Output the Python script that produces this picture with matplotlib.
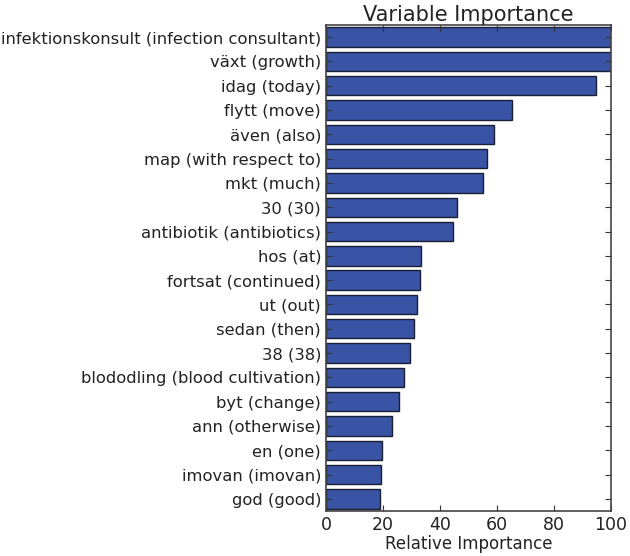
import numpy as np
import matplotlib
matplotlib.use("Agg")
import matplotlib.pyplot as plt

# feature names (top to bottom) and their relative importance
names = [
    "infektionskonsult (infection consultant)",
    "växt (growth)",
    "idag (today)",
    "flytt (move)",
    "även (also)",
    "map (with respect to)",
    "mkt (much)",
    "30 (30)",
    "antibiotik (antibiotics)",
    "hos (at)",
    "fortsat (continued)",
    "ut (out)",
    "sedan (then)",
    "38 (38)",
    "blododling (blood cultivation)",
    "byt (change)",
    "ann (otherwise)",
    "en (one)",
    "imovan (imovan)",
    "god (good)",
]
importance = [100.0, 100.0, 94.7, 65.2, 59.0, 56.3, 55.1, 46.0, 44.5, 33.4,
              33.0, 31.8, 31.0, 29.3, 27.4, 25.6, 23.3, 19.7, 19.3, 18.9]

# plot smallest at bottom
names_r = names[::-1]
vals_r = importance[::-1]
pos = np.arange(len(names_r)) + 0.5

fig = plt.figure(figsize=(6.3, 5.56), dpi=100)
ax = fig.add_axes([0.5175, 0.081, 0.4525, 0.874])
ax.barh(pos, vals_r, height=0.8, align='center', color='#3953a5',
        edgecolor='#1a1f33', linewidth=1.0)

ax.set_xlim(0, 100)
ax.set_ylim(0, len(names_r))
ax.set_yticks(pos)
ax.set_yticklabels(names_r, fontsize=11.8, color='#222222')
ax.set_xticks([0, 20, 40, 60, 80, 100])
ax.tick_params(axis='x', labelsize=12.5, labelcolor='#222222')
ax.tick_params(direction='in', top=True, right=True, length=4, width=0.8,
               color='#333333')
for s in ax.spines.values():
    s.set_color('#444444')
    s.set_linewidth(1.2)

ax.set_xlabel('Relative Importance', fontsize=12, labelpad=1, color='#222222')
ax.set_title('Variable Importance', fontsize=15, pad=3, color='#222222')

fig.savefig('out.png', dpi=100)
